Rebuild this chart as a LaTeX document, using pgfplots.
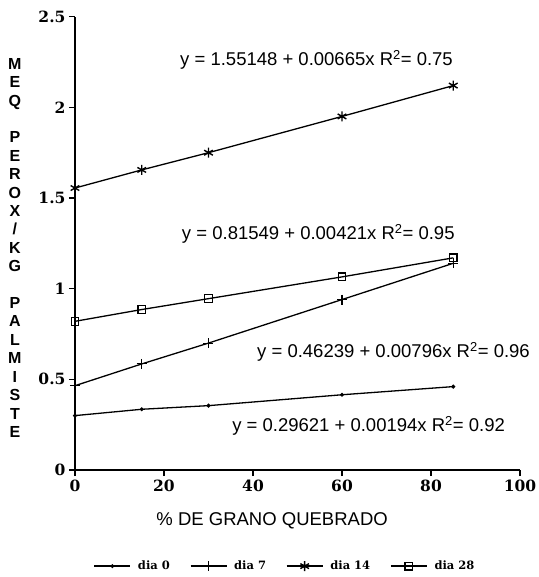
\documentclass[border=0pt]{standalone}
\usepackage{fontspec}
\setmainfont{Liberation Sans}
\newfontfamily\tickfont{DejaVu Serif}
\usepackage{pgfplots}
\pgfplotsset{compat=1.18}
\begin{document}
\begin{tikzpicture}
\begin{axis}[
  scale only axis, width=445pt, height=453.3pt,
  xmin=0, xmax=100, ymin=0, ymax=2.5,
  axis lines*=left,
  axis line style={line width=1.3pt},
  xtick={0,20,40,60,80,100}, ytick={0,0.5,1,1.5,2,2.5},
  xticklabels={0,20,40,60,80,100},
  yticklabels={0,0.5,1,1.5,2,2.5},
  tick align=outside, major tick length=6pt,
  tick style={line width=1.2pt, black},
  /pgf/number format/assume math mode=true,
  ticklabel style={font=\tickfont\bfseries\fontsize{15.5}{17}\selectfont},
  clip=false,
  legend columns=4,
  legend style={draw=none, fill=none, at={(axis cs:47.2,-0.53)}, anchor=center,
    font=\tickfont\bfseries\fontsize{11.5}{13}\selectfont,
    /tikz/every odd column/.append style={column sep=5pt},
    /tikz/every even column/.append style={column sep=18pt}},
  legend image code/.code={\draw[mark repeat=2,mark phase=2,#1] plot coordinates {(0pt,0pt)(18pt,0pt)(36pt,0pt)};},
  every axis plot/.append style={black, line width=1.3pt},
]
\addplot[mark=*, mark size=1.3pt] coordinates {(0,0.30)(15,0.335)(30,0.355)(60,0.415)(85,0.46)};
\addlegendentry{dia 0}
\addplot[mark=+, mark size=5pt, mark options={line width=1.1pt}] coordinates {(0,0.465)(15,0.585)(30,0.70)(60,0.94)(85,1.14)};
\addlegendentry{dia 7}
\addplot[mark=asterisk, mark size=5pt, mark options={line width=1.4pt}] coordinates {(0,1.555)(15,1.655)(30,1.75)(60,1.95)(85,2.12)};
\addlegendentry{dia 14}
\addplot[mark=square, mark size=3.8pt, mark options={line width=1.2pt, fill=white}] coordinates {(0,0.82)(15,0.885)(30,0.945)(60,1.065)(85,1.17)};
\addlegendentry{dia 28}

\node[anchor=west, inner sep=0pt, font=\fontsize{18.5}{20}\selectfont] at (axis cs:23.6,2.261) {y = 1.55148 + 0.00665x R\textsuperscript{2}= 0.75};
\node[anchor=west, inner sep=0pt, font=\fontsize{18.5}{20}\selectfont] at (axis cs:24.0,1.302) {y = 0.81549 + 0.00421x R\textsuperscript{2}= 0.95};
\node[anchor=west, inner sep=0pt, font=\fontsize{18.5}{20}\selectfont] at (axis cs:40.9,0.651) {y = 0.46239 + 0.00796x R\textsuperscript{2}= 0.96};
\node[anchor=west, inner sep=0pt, font=\fontsize{18.5}{20}\selectfont] at (axis cs:35.3,0.243) {y = 0.29621 + 0.00194x R\textsuperscript{2}= 0.92};

\node[anchor=center, inner sep=0pt, font=\fontsize{18.5}{20}\selectfont] at (axis cs:44.3,-0.281) {\% DE GRANO QUEBRADO};

\node[anchor=center, align=center, inner sep=0pt, font=\bfseries\fontsize{16}{18.4}\selectfont] at (axis cs:-13.5,1.225)
  {M\\E\\Q\\[18.4pt]P\\E\\R\\O\\X\\/\\K\\G\\[18.4pt]P\\A\\L\\M\\I\\S\\T\\E};

\coordinate (bbBL) at (axis cs:-16.85,-0.590);
\coordinate (bbTR) at (axis cs:104.04,2.592);
\end{axis}
\pgfresetboundingbox
\useasboundingbox (bbBL) rectangle (bbTR);
\end{tikzpicture}
\end{document}
